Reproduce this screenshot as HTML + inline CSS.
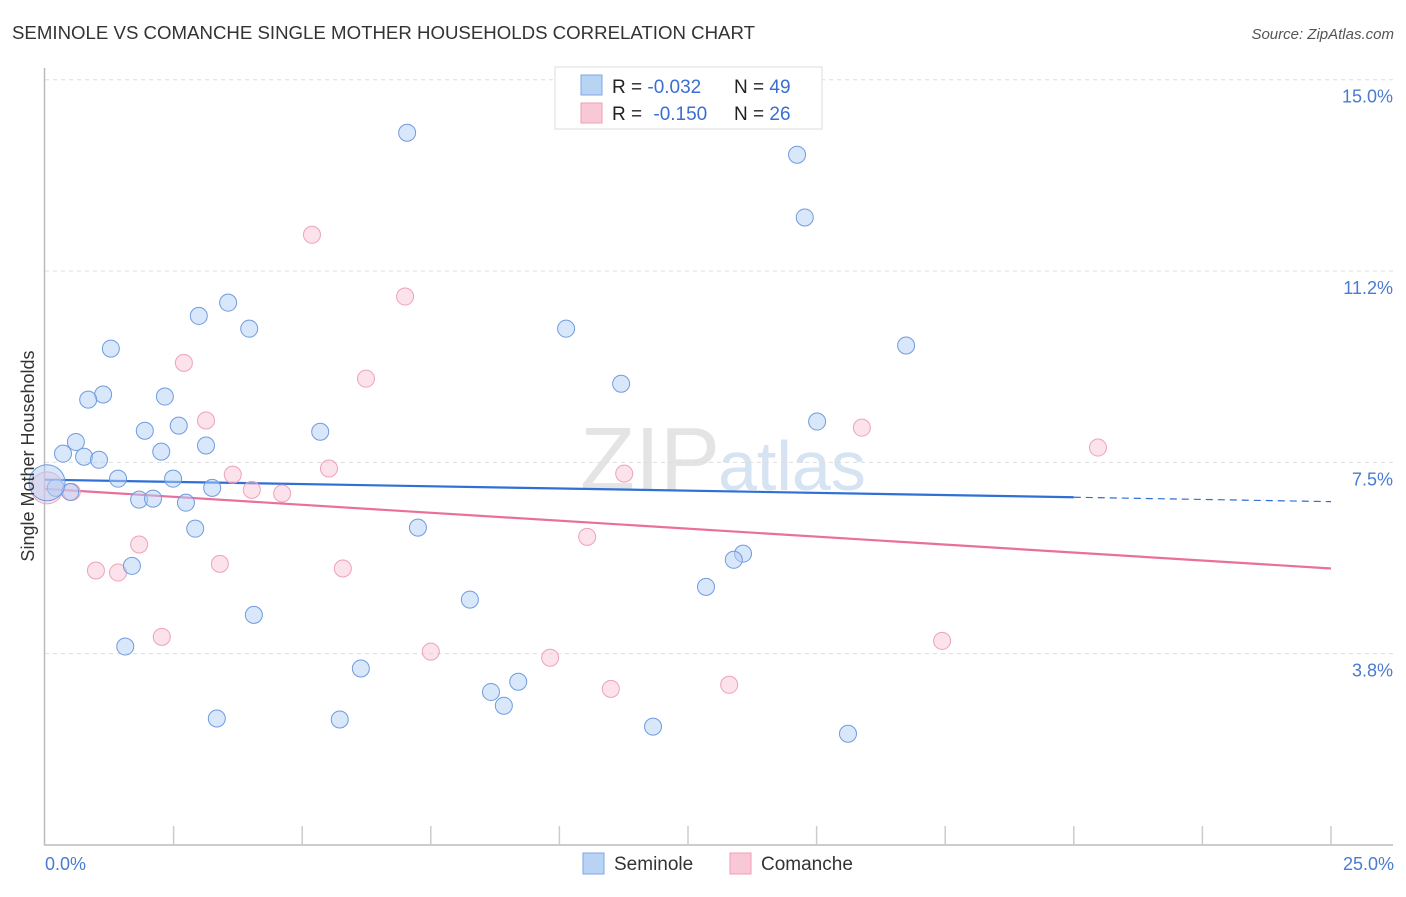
<!DOCTYPE html>
<html><head><meta charset="utf-8"><style>
body{margin:0;background:#fff;font-family:"Liberation Sans",sans-serif;}
svg text{font-family:"Liberation Sans",sans-serif;}
</style></head><body>
<svg id="chart" width="1406" height="892">
<text x="12" y="39" font-size="18" fill="#333" textLength="743" lengthAdjust="spacingAndGlyphs">SEMINOLE VS COMANCHE SINGLE MOTHER HOUSEHOLDS CORRELATION CHART</text>
<text x="1394" y="39" font-size="15" fill="#555" font-style="italic" text-anchor="end">Source: ZipAtlas.com</text>
<text x="720" y="490" font-size="90" fill="#e4e4e4" font-family="Liberation Serif" text-anchor="end">ZIP</text>
<text x="718" y="490" font-size="70" fill="#d6e3f3">atlas</text>
<g id="grid"></g>
<g id="axes"></g>
<g id="lines"></g>
<g id="pts"></g>
<text transform="translate(34,456) rotate(-90)" font-size="18" fill="#333" text-anchor="middle">Single Mother Households</text>
<text x="45" y="870" font-size="18" fill="#4a7bd0">0.0%</text>
<text x="1394" y="870" font-size="18" fill="#4a7bd0" text-anchor="end">25.0%</text>
<g>
<rect x="555" y="67" width="267" height="62" fill="#fff" stroke="#ddd"/>
<rect x="581" y="75" width="21" height="20" fill="#b9d3f5" stroke="#7ea7e4"/>
<rect x="581" y="103" width="21" height="20" fill="#f9c8d6" stroke="#ee9fb6"/>
<text x="612" y="93" font-size="19" fill="#222">R = <tspan fill="#3a6fd0">-0.032</tspan><tspan x="734">N = </tspan><tspan fill="#3a6fd0">49</tspan></text>
<text x="612" y="120" font-size="19" fill="#222">R = <tspan fill="#3a6fd0" dx="6">-0.150</tspan><tspan x="734">N = </tspan><tspan fill="#3a6fd0">26</tspan></text>
</g>
<g>
<rect x="583" y="853" width="21" height="21" fill="#b9d3f5" stroke="#7ea7e4"/>
<text x="614" y="870" font-size="19" fill="#333">Seminole</text>
<rect x="730" y="853" width="21" height="21" fill="#f9c8d6" stroke="#ee9fb6"/>
<text x="761" y="870" font-size="19" fill="#333">Comanche</text>
</g>
</svg>
<script>
const yTicks=[15.0,11.25,7.5,3.75];
const yTickLabels=["15.0%","11.2%","7.5%","3.8%"];
const xTicks=[0,2.5,5,7.5,10,12.5,15,17.5,20,22.5,25];
const seminoleX=[7.04,14.62,14.77,3.56,2.99,3.97,10.13,16.74,1.28,11.20,1.13,0.84,2.33,15.01,1.94,2.60,5.35,0.60,3.13,2.26,0.35,0.76,1.05,1.42,2.49,0.21,0.49,3.25,1.83,2.10,2.74,2.92,7.25,13.57,13.39,1.69,8.26,12.85,4.06,1.56,6.14,9.20,8.67,8.92,3.34,5.73,11.82,15.61,0.04];
const seminoleY=[13.96,13.53,12.30,10.63,10.37,10.12,10.12,9.79,9.73,9.04,8.83,8.73,8.79,8.30,8.12,8.22,8.10,7.90,7.83,7.71,7.67,7.61,7.55,7.18,7.18,7.00,6.92,7.00,6.77,6.79,6.71,6.20,6.22,5.71,5.59,5.47,4.81,5.06,4.51,3.89,3.46,3.20,3.00,2.73,2.48,2.46,2.32,2.18,7.10];
const comancheX=[5.19,7.00,2.70,6.24,3.13,15.88,20.47,5.52,3.65,11.26,4.02,4.61,0.52,0.04,1.83,10.54,0.99,1.42,3.40,5.79,2.27,7.50,9.82,17.44,11.00,13.30];
const comancheY=[11.96,10.75,9.45,9.14,8.32,8.18,7.79,7.38,7.26,7.28,6.96,6.89,6.92,7.00,5.89,6.04,5.38,5.34,5.51,5.42,4.08,3.79,3.67,4.00,3.06,3.14];
const seminoleTrend=[7.16,6.73];
const comancheTrend=[6.98,5.42];
const X=v=>45+v*51.44, Y=v=>845-v*51.02;
const NS="http://www.w3.org/2000/svg";
function mk(t,a,p){const e=document.createElementNS(NS,t);for(const k in a)e.setAttribute(k,a[k]);p.appendChild(e);return e;}
const grid=document.getElementById('grid'),axes=document.getElementById('axes'),lines=document.getElementById('lines'),pts=document.getElementById('pts');
yTicks.forEach((v,i)=>{
const l=mk('line',{x1:45,x2:1393,y1:Y(v),y2:Y(v),stroke:'#ddd','stroke-dasharray':'4,4'},grid);


const t=mk('text',{x:1393,y:Y(v)+23,'font-size':18,fill:'#4a7bd0','text-anchor':'end'},grid);
t.textContent=yTickLabels[i];


});
const ax=mk('line',{x1:44.5,x2:44.5,y1:68,y2:845,stroke:'#bbb','stroke-width':1.5},axes);


const bx=mk('line',{x1:44,x2:1393,y1:845,y2:845,stroke:'#bbb','stroke-width':1.5},axes);


xTicks.slice(1).forEach(v=>{
const t=mk('line',{x1:X(v),x2:X(v),y1:826,y2:845,stroke:'#ccc','stroke-width':1.5},axes);


});
const xs=20;
const sl=v=>seminoleTrend[0]+(seminoleTrend[1]-seminoleTrend[0])*v/25;
const cl=v=>comancheTrend[0]+(comancheTrend[1]-comancheTrend[0])*v/25;
let e=mk('line',{x1:X(0),y1:Y(sl(0)),x2:X(xs),y2:Y(sl(xs)),stroke:'#2f6fd6','stroke-width':2.2},lines);


e=mk('line',{x1:X(xs),y1:Y(sl(xs)),x2:X(25),y2:Y(sl(25)),stroke:'#2f6fd6','stroke-width':1.2,'stroke-dasharray':'7,5'},lines);


e=mk('line',{x1:X(0),y1:Y(cl(0)),x2:X(25),y2:Y(cl(25)),stroke:'#e8709a','stroke-width':2.2},lines);


comancheX.forEach((v,i)=>{
const c=mk('circle',{cx:X(v),cy:Y(comancheY[i]),r:i===13?16:8.5,fill:'rgba(248,190,208,0.45)',stroke:'#eea2ba','stroke-width':1},pts);


});
seminoleX.forEach((v,i)=>{
const c=mk('circle',{cx:X(v),cy:Y(seminoleY[i]),r:i===48?18:8.5,fill:'rgba(180,208,245,0.5)',stroke:'#6f9be0','stroke-width':1},pts);


});
</script>
</body></html>
